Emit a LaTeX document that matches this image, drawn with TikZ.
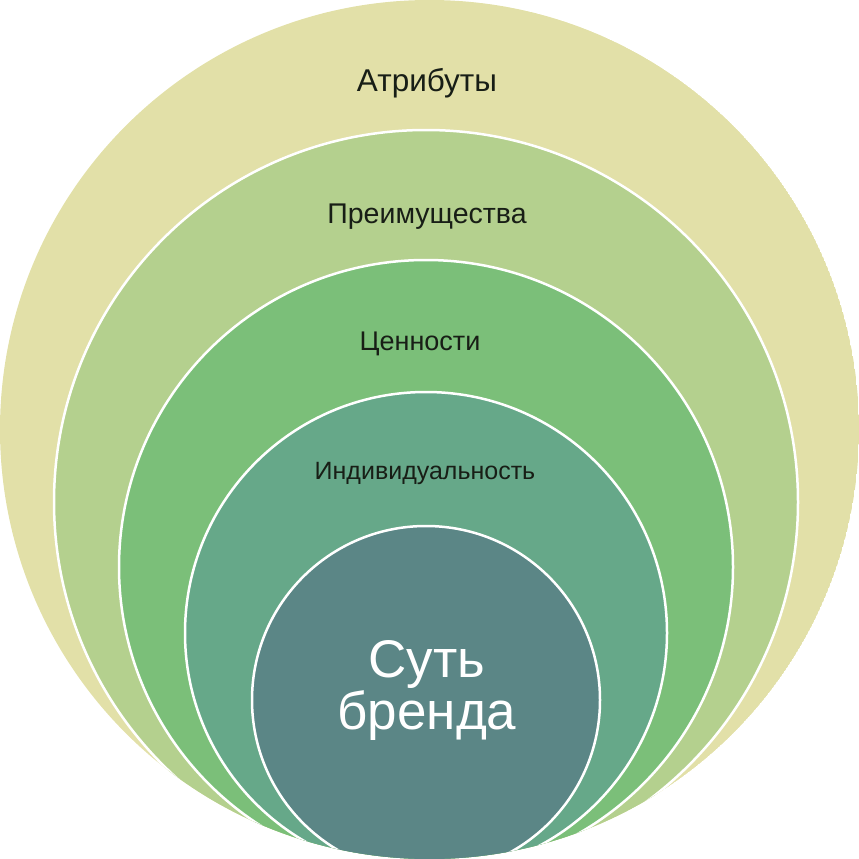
\documentclass[tikz,border=0pt]{standalone}
\usepackage{fontspec}
\setmainfont{Liberation Sans}

\definecolor{attributes}{RGB}{226,224,168}
\definecolor{benefits}{RGB}{180,208,142}
\definecolor{values}{RGB}{123,191,121}
\definecolor{identity}{RGB}{102,168,137}
\definecolor{essence}{RGB}{91,134,134}
\definecolor{labeltext}{RGB}{24,30,22}

\begin{document}
\begin{tikzpicture}[
  x=1pt, y=-1pt,
  ring/.style={draw=white, line width=2.5pt},
  layer label/.style={text=labeltext, anchor=base, inner sep=0pt,
    font=\fontsize{27}{32}\selectfont}
  ]
\useasboundingbox (0,0) rectangle (859,859);
\clip (429.5,429.5) circle[radius=429.5pt];
\fill[attributes] (429.5,429.5) circle[radius=429.5pt];
% nested circles, all touching at the bottom
\foreach \r/\c in {372/benefits,307/values,241/identity,174/essence}
  \filldraw[ring, fill=\c] (426,874-\r) circle[radius=\r pt];

\node[layer label, font=\fontsize{31.5}{36}\selectfont] (attributes) at (427,92) {Атрибуты};
\node[layer label, font=\fontsize{28.5}{33}\selectfont] (benefits) at (427,223) {Преимущества};
\node[layer label] (values) at (420,350) {Ценности};
\node[layer label, font=\fontsize{25}{30}\selectfont] (identity) at (425,479) {Индивидуальность};
\node[text=white, inner sep=0pt, align=center,
  font=\fontsize{53}{52}\selectfont] (essence) at (427,690) {Суть\\бренда};
\end{tikzpicture}
\end{document}
